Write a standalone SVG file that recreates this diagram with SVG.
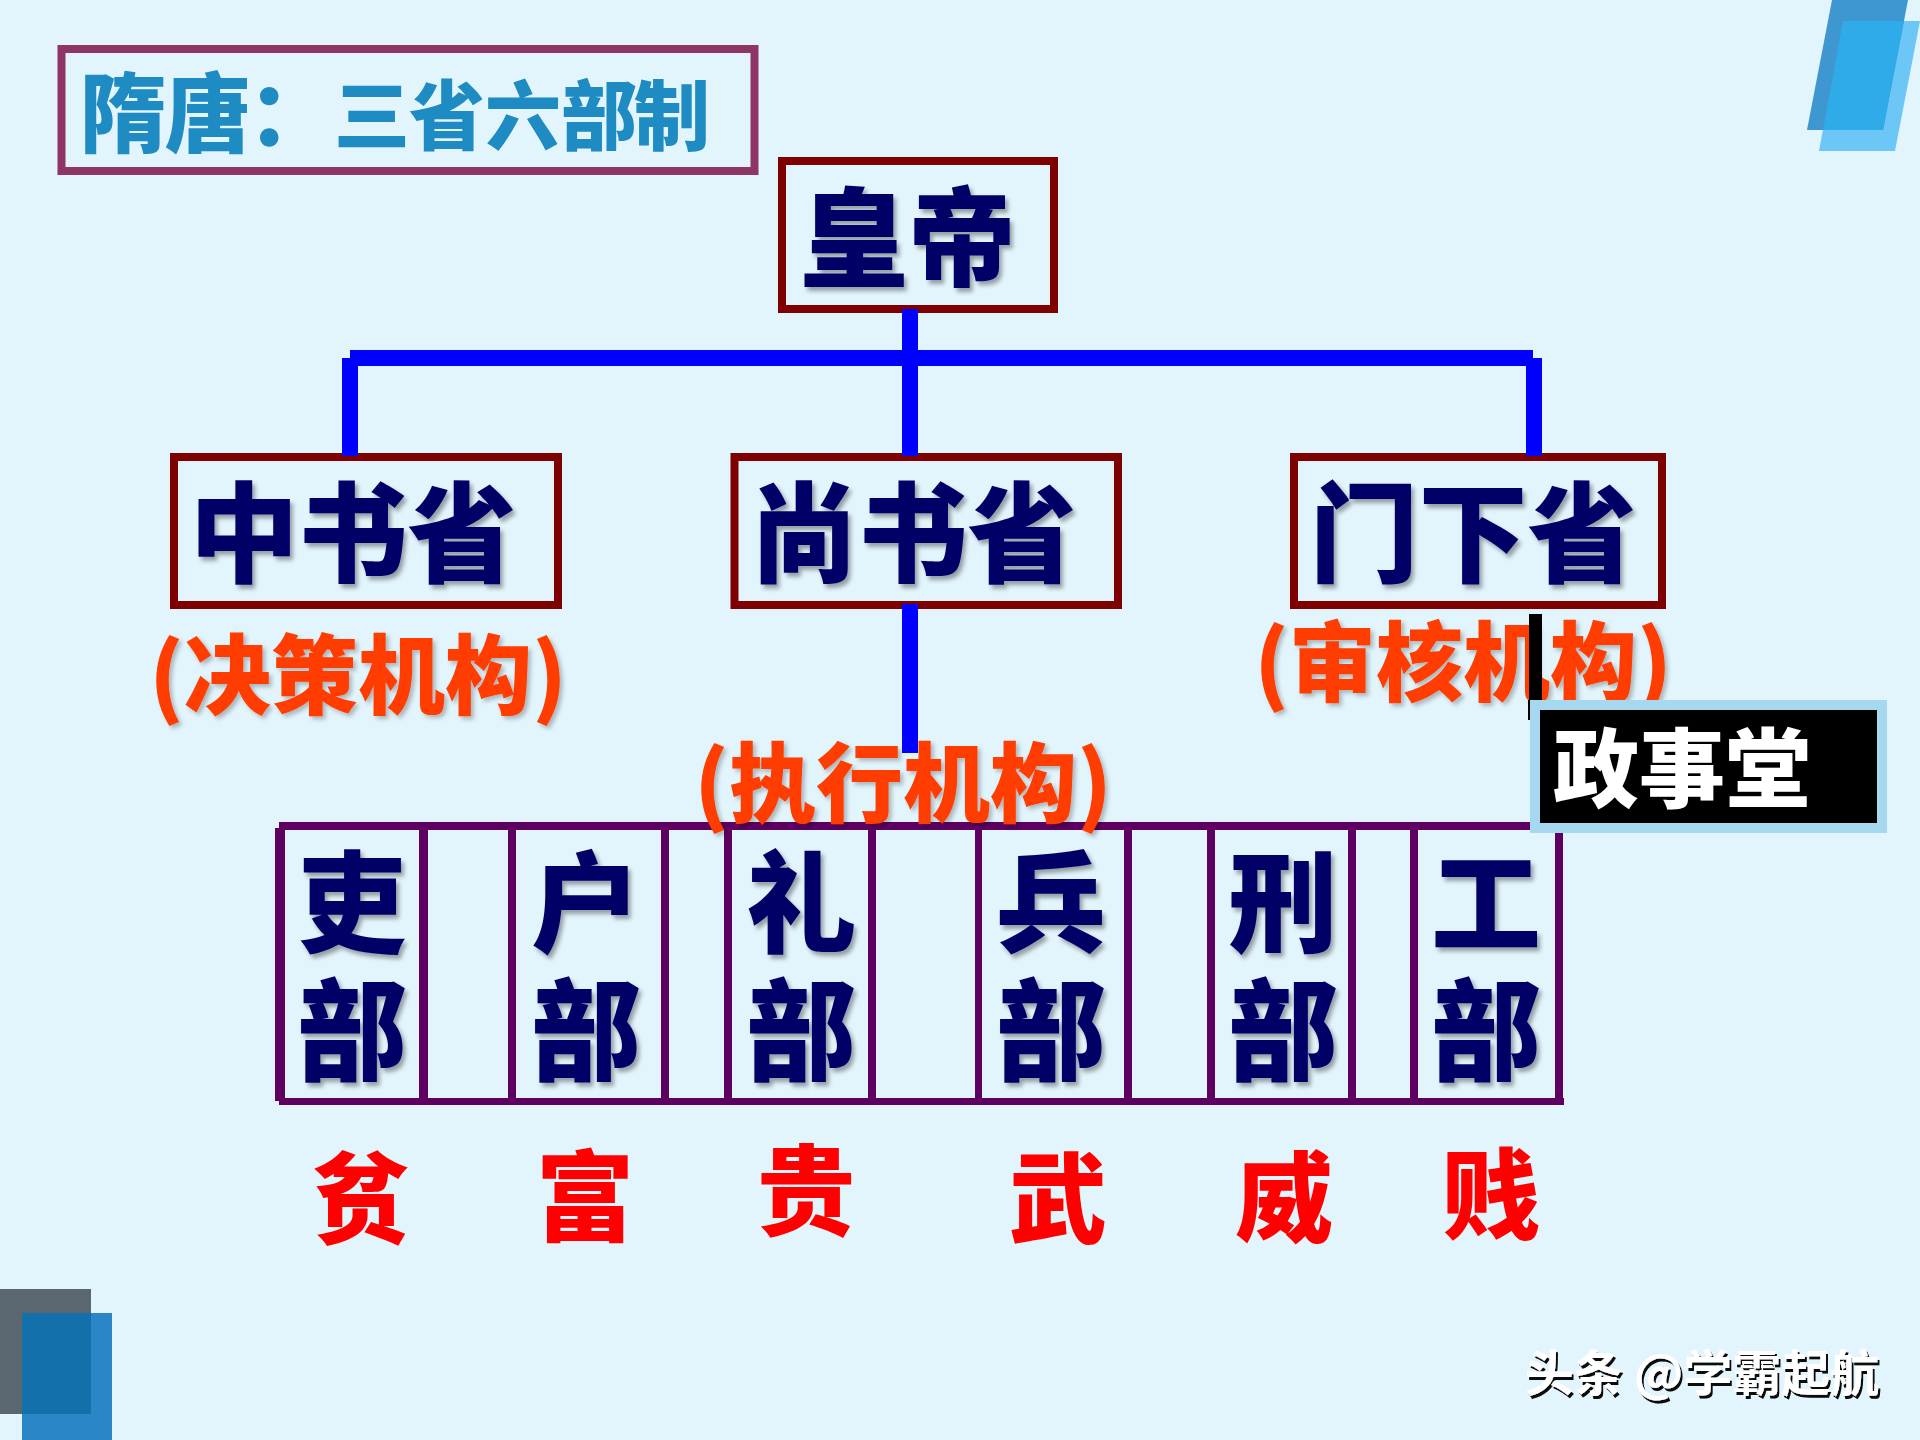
<svg xmlns="http://www.w3.org/2000/svg" width="1920" height="1440" viewBox="0 0 1920 1440">
<style>
text{font-family:"Noto Sans CJK SC","Noto Sans",sans-serif;font-weight:900;text-anchor:middle}
.box{fill:none;stroke:#7f0000;stroke-width:8}
.nv{fill:#020066;filter:url(#sh)}
.nv1{font-size:109px}
.bu{font-size:110px}
.or{fill:#ff3c00;font-size:87px;filter:url(#sh2)}
.rd{fill:#ff0000;font-size:98px}
.ti{fill:#1e8bc3}
.blue{fill:#0000ff}
.pu{fill:#5e0061}
</style>
<defs>
<filter id="sh" x="-10%" y="-10%" width="125%" height="125%"><feDropShadow dx="3" dy="4" stdDeviation="2" flood-color="#000" flood-opacity="0.35"/></filter>
<filter id="sh2" x="-10%" y="-10%" width="125%" height="125%"><feDropShadow dx="3" dy="3" stdDeviation="2" flood-color="#000" flood-opacity="0.25"/></filter>
<filter id="wm" x="-5%" y="-10%" width="110%" height="130%"><feDropShadow dx="2" dy="3" stdDeviation="0.6" flood-color="#000" flood-opacity="0.95"/></filter>
</defs>
<rect width="1920" height="1440" fill="#e2f4fc"/>
<g id="deco">
<polygon points="1843,21 1920,21 1895,151 1819,151" fill="#6cc7f7"/>
<polygon points="1832,0 1908,0 1883,130 1807,130" fill="#3e97d1"/>
<polygon points="1843,21 1904,21 1883,130 1823,130" fill="#2fabe9"/>
<rect x="0" y="1289" width="91" height="125" fill="#5a6670"/>
<rect x="22" y="1313" width="90" height="127" fill="#2a86c6"/>
<rect x="22" y="1313" width="69" height="101" fill="#1470ab"/>
</g>
<g id="title">
<rect x="61.5" y="49" width="693" height="122" fill="none" stroke="#8e3565" stroke-width="8"/>
<text class="ti" x="123" y="146" font-size="87">隋</text>
<text class="ti" x="208" y="146" font-size="87">唐</text>
<text class="ti" x="291" y="146" font-size="87">：</text>
<text class="ti" x="372" y="144" font-size="76">三</text>
<text class="ti" x="447" y="144" font-size="76">省</text>
<text class="ti" x="523" y="144" font-size="76">六</text>
<text class="ti" x="599" y="144" font-size="76">部</text>
<text class="ti" x="672" y="144" font-size="76">制</text>
</g>
<g id="huangdi">
<rect class="box" x="782" y="161" width="272" height="148"/>
<text class="nv" font-size="108" x="908" y="278">皇帝</text>
</g>
<g id="zhongshu">
<rect class="box" x="174" y="457" width="384" height="148"/>
<text class="nv nv1" x="353" y="574">中书省</text>
</g>
<g id="shangshu">
<rect class="box" x="734.5" y="457" width="383.5" height="148"/>
<text class="nv nv1" x="913" y="574">尚书省</text>
</g>
<g id="menxia">
<rect class="box" x="1294" y="457" width="368" height="148"/>
<text class="nv nv1" x="1473" y="574">门下省</text>
</g>
<g id="connectors">
<rect class="blue" x="902" y="309" width="16" height="147"/>
<rect class="blue" x="350" y="350" width="1183" height="16"/>
<rect class="blue" x="342" y="358" width="16" height="98"/>
<rect class="blue" x="1526" y="358" width="16" height="98"/>
<rect class="blue" x="902" y="604" width="16" height="149"/>
</g>
<g id="liubu">
<rect class="pu" x="279" y="822" width="1295" height="8"/>
<rect class="pu" x="279" y="1098" width="1285" height="7"/>
<rect class="pu" x="275" y="828" width="10" height="273"/>
<rect class="pu" x="419" y="828" width="9" height="273"/>
<rect class="pu" x="508" y="828" width="8" height="273"/>
<rect class="pu" x="661" y="828" width="8" height="273"/>
<rect class="pu" x="724" y="828" width="8" height="273"/>
<rect class="pu" x="868" y="828" width="8" height="273"/>
<rect class="pu" x="975" y="828" width="7" height="273"/>
<rect class="pu" x="1124" y="828" width="8" height="273"/>
<rect class="pu" x="1207" y="828" width="8" height="273"/>
<rect class="pu" x="1348" y="828" width="8" height="273"/>
<rect class="pu" x="1410" y="828" width="8" height="273"/>
<rect class="pu" x="1555" y="828" width="8" height="273"/>
</g>
<g id="labels">
<text class="or" x="358" y="708">(决策机构)</text>
<text class="or" x="1463" y="695">(审核机构)</text>
<text class="or" x="903" y="816">(执行机构)</text>
</g>
<g id="bu-li"><text class="nv bu" y="944"><tspan x="352">吏</tspan><tspan x="352" dy="128">部</tspan></text></g>
<g id="bu-hu"><text class="nv bu" y="944"><tspan x="586">户</tspan><tspan x="586" dy="128">部</tspan></text></g>
<g id="bu-lii"><text class="nv bu" y="944"><tspan x="801">礼</tspan><tspan x="801" dy="128">部</tspan></text></g>
<g id="bu-bing"><text class="nv bu" y="944"><tspan x="1051">兵</tspan><tspan x="1051" dy="128">部</tspan></text></g>
<g id="bu-xing"><text class="nv bu" y="944"><tspan x="1283">刑</tspan><tspan x="1283" dy="128">部</tspan></text></g>
<g id="bu-gong"><text class="nv bu" y="944"><tspan x="1486">工</tspan><tspan x="1486" dy="128">部</tspan></text></g>
<g id="traits">
<text class="rd" x="361" y="1235">贫</text>
<text class="rd" x="585" y="1233">富</text>
<text class="rd" x="806" y="1227">贵</text>
<text class="rd" x="1058" y="1235">武</text>
<text class="rd" x="1284" y="1234">威</text>
<text class="rd" x="1491" y="1231">贱</text>
</g>
<g id="zhengshi">
<rect x="1535" y="705" width="347" height="123" fill="#000" stroke="#a6d8f0" stroke-width="10"/>
<text x="1682" y="801" font-size="86" fill="#fff">政事堂</text>
</g>
<g id="cursor">
<rect x="1529" y="614" width="13" height="86" fill="#000"/>
<rect x="1528" y="700" width="2" height="20" fill="#000"/>
</g>
<g id="watermark">
<text x="1702" y="1391" font-size="49" fill="#fff" filter="url(#wm)" style="font-weight:700">头条 @学霸起航</text>
</g>
</svg>
